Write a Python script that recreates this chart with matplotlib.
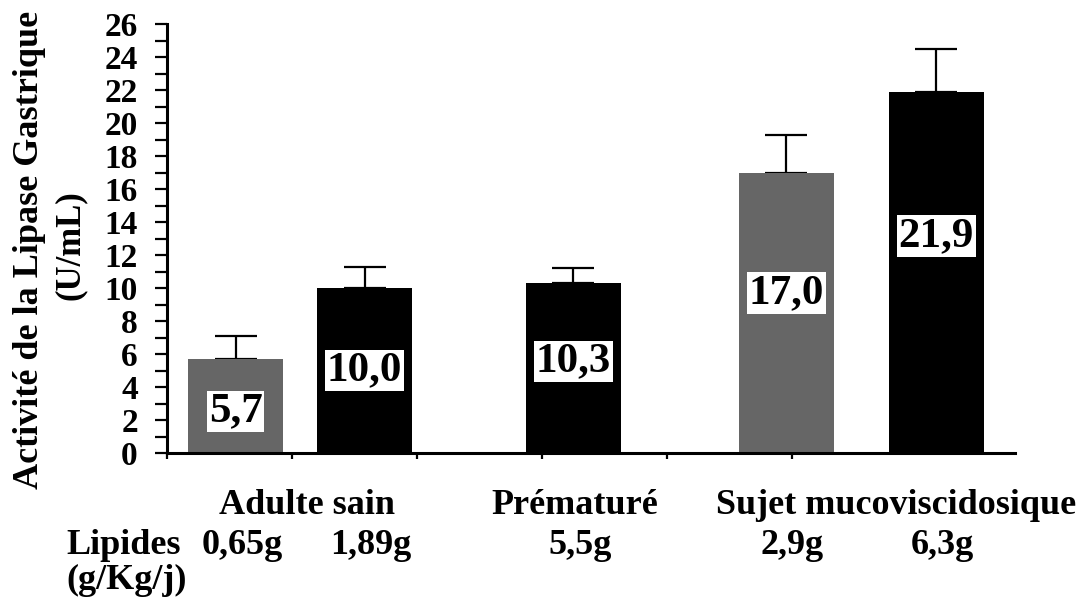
import matplotlib
matplotlib.use("Agg")
import matplotlib.pyplot as plt
from matplotlib.transforms import blended_transform_factory
import numpy as np

plt.rcParams["font.family"] = ["Liberation Serif", "DejaVu Serif"]
plt.rcParams["font.weight"] = "bold"

# activity values (U/mL) and upper SD
values = [5.7, 10.0, 10.3, 17.0, 21.9]
errors = [1.4, 1.3, 0.9, 2.3, 2.6]
value_labels = ["5,7", "10,0", "10,3", "17,0", "21,9"]
bar_colors = ["#666666", "black", "black", "#666666", "black"]
lipides = ["0,65g", "1,89g", "5,5g", "2,9g", "6,3g"]
groups = ["Adulte sain", "Prématuré", "Sujet mucoviscidosique"]

# layout
bar_x = np.array([0.55, 1.58, 3.25, 4.95, 6.15])
bar_w = 0.76
label_frac = [0.44, 0.50, 0.54, 0.57, 0.60]
group_x = [1.12, 3.26, 5.83]

W, H = 1083, 604
fig = plt.figure(figsize=(W / 100, H / 100), dpi=100)
ax = fig.add_axes([167 / W, (H - 453) / H, (1015 - 167) / W, (453 - 24) / H])

ax.bar(bar_x, values, width=bar_w, color=bar_colors, zorder=2)
ax.errorbar(bar_x, values, yerr=[np.zeros(len(errors)), errors], fmt="none",
            ecolor="black", elinewidth=1.6, capsize=15, capthick=1.6, zorder=1)

for x, v, f, lab in zip(bar_x, values, label_frac, value_labels):
    ax.text(x, v * f, lab, ha="center", va="center", fontsize=31,
            fontweight="bold", zorder=3,
            bbox=dict(boxstyle="square,pad=0.04", fc="white", ec="none"))

ax.set_xlim(0, 6.78)
ax.set_ylim(0, 26)
ax.set_yticks(np.arange(0, 27, 2))
ax.set_yticks(np.arange(1, 26, 2), minor=True)
ax.set_yticklabels([str(t) for t in range(0, 27, 2)], fontsize=24, fontweight="bold")
ax.set_xticks(np.arange(0, 6))
ax.set_xticklabels([])

ax.tick_params(axis="y", which="both", direction="out", length=9, width=1.6, pad=12)
ax.tick_params(axis="x", direction="out", length=4, width=1.6)
for s in ["top", "right"]:
    ax.spines[s].set_visible(False)
ax.spines["left"].set_linewidth(2.2)
ax.spines["bottom"].set_linewidth(2.2)

# y axis title on two lines
fig.text(30 / W, 1 - 250 / H, "Activité de la Lipase Gastrique", rotation=90,
         ha="center", va="center", fontsize=26, fontweight="bold")
fig.text(70 / W, 1 - 245 / H, "(U/mL)", rotation=90,
         ha="center", va="center", fontsize=25, fontweight="bold")

# category rows under the axis
tr = blended_transform_factory(ax.transData, fig.transFigure)
for gx, g in zip(group_x, groups):
    ax.text(gx, 1 - 505 / H, g, transform=tr, ha="center", va="center",
            fontsize=26, fontweight="bold", clip_on=False)
for x, lip in zip(bar_x, lipides):
    ax.text(x + 0.05, 1 - 545 / H, lip, transform=tr, ha="center", va="center",
            fontsize=26, fontweight="bold", clip_on=False)
fig.text(66 / W, 1 - 545 / H, "Lipides", ha="left", va="center", fontsize=26, fontweight="bold")
fig.text(66 / W, 1 - 580 / H, "(g/Kg/j)", ha="left", va="center", fontsize=26, fontweight="bold")

fig.savefig("out.png", dpi=100)
